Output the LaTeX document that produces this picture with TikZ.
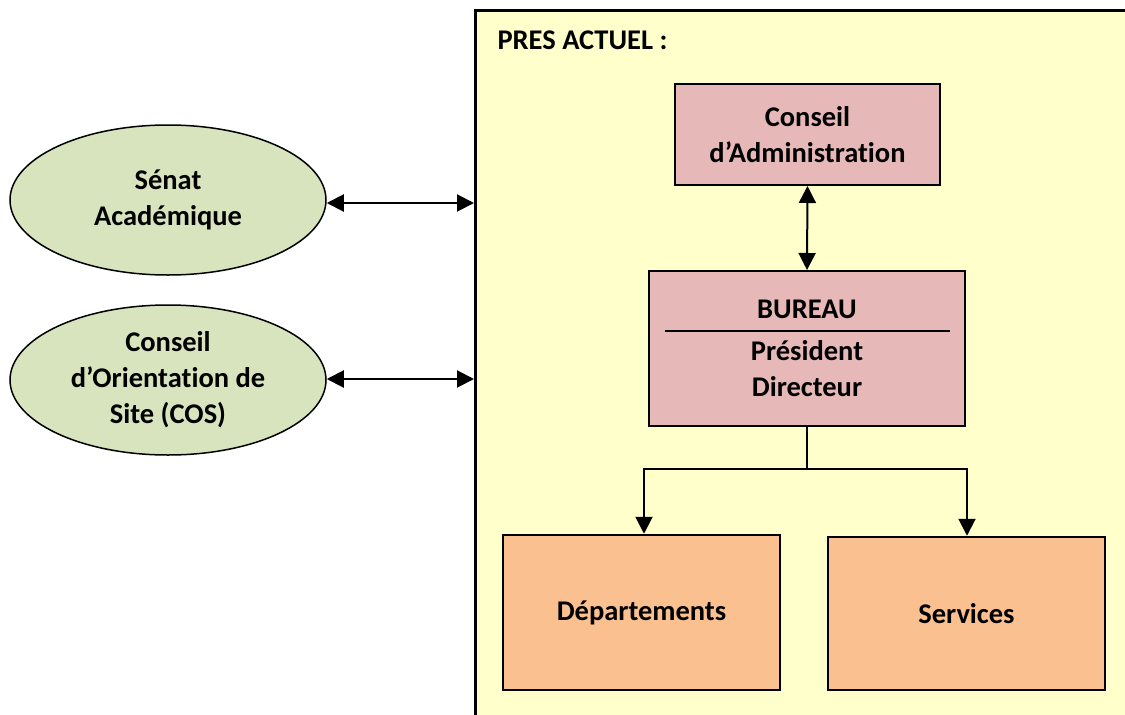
\documentclass[tikz,border=0pt]{standalone}
\usepackage{fontspec}
\setmainfont{Carlito}[Ligatures={NoCommon}]
\usetikzlibrary{arrows.meta,shapes.geometric}
\definecolor{presyellow}{HTML}{FFFFCC}
\definecolor{pinkbox}{HTML}{E6B8B7}
\definecolor{orangebox}{HTML}{FAC090}
\definecolor{greenell}{HTML}{D7E4BD}
\tikzset{
  txt/.style={font=\fontsize{28.5}{36}\selectfont\bfseries, align=center},
  pinkrect/.style={draw=black, line width=2pt, fill=pinkbox, inner sep=0pt, txt},
  orangerect/.style={draw=black, line width=2.5pt, fill=orangebox, inner sep=0pt, txt},
  greenell/.style={draw=black, line width=1.5pt, fill=greenell, ellipse, inner sep=0pt, txt},
  conn/.style={line width=2pt, -{Triangle[length=17pt,width=17pt]}},
  biconn/.style={line width=2pt, {Triangle[length=17pt,width=17pt]}-{Triangle[length=17pt,width=17pt]}},
}
\begin{document}
\begin{tikzpicture}[x=1pt,y=-1pt]
\useasboundingbox (0,0) rectangle (1125,715);
\clip (0,0) rectangle (1125,715);
% PRES box
\node[draw=black, line width=2.5pt, fill=presyellow, minimum width=700pt, minimum height=740pt, anchor=north west, inner sep=0pt] (pres) at (474,9) {};
\node[txt, anchor=west] (prestitle) at (494,40) {PRES ACTUEL :};
% boxes
\node[pinkrect, minimum width=265pt, minimum height=101pt] (ca) at (807.5,134.5) {Conseil\\d’Administration};
\node[pinkrect, minimum width=316pt, minimum height=155pt] (bureau) at (807,348.5) {};
\node[txt] (bureautitle) at (807,309) {BUREAU};
\node[txt] (bureaupd) at (807,369) {Président\\Directeur};
\draw[line width=1.2pt] (665,331) -- (950,331);
\node[orangerect, minimum width=277pt, minimum height=155pt] (dep) at (641.5,612.5) {Départements};
\node[orangerect, minimum width=277pt, minimum height=153pt] (serv) at (966.5,613.5) {Services};
% ellipses
\node[greenell, minimum width=316pt, minimum height=150pt] (senat) at (168,200) {Sénat\\Académique};
\node[greenell, minimum width=316pt, minimum height=150pt] (cos) at (168,380) {Conseil\\d’Orientation de\\Site (COS)};
% connectors
\coordinate (p1) at (474,203);
\coordinate (p2) at (474,379);
\draw[biconn] (senat.east |- p1) -- (p1);
\draw[biconn] (cos.east |- p2) -- (p2);
\draw[biconn] (ca.south) -- (bureau.north);
\coordinate (split) at (807,469);
\draw[line width=1.2pt] (bureau.south) -- (split);
\draw[conn] (split) -| (dep.north -| 644,0);
\draw[conn] (split) -| (serv.north -| 967,0);
\end{tikzpicture}
\end{document}
